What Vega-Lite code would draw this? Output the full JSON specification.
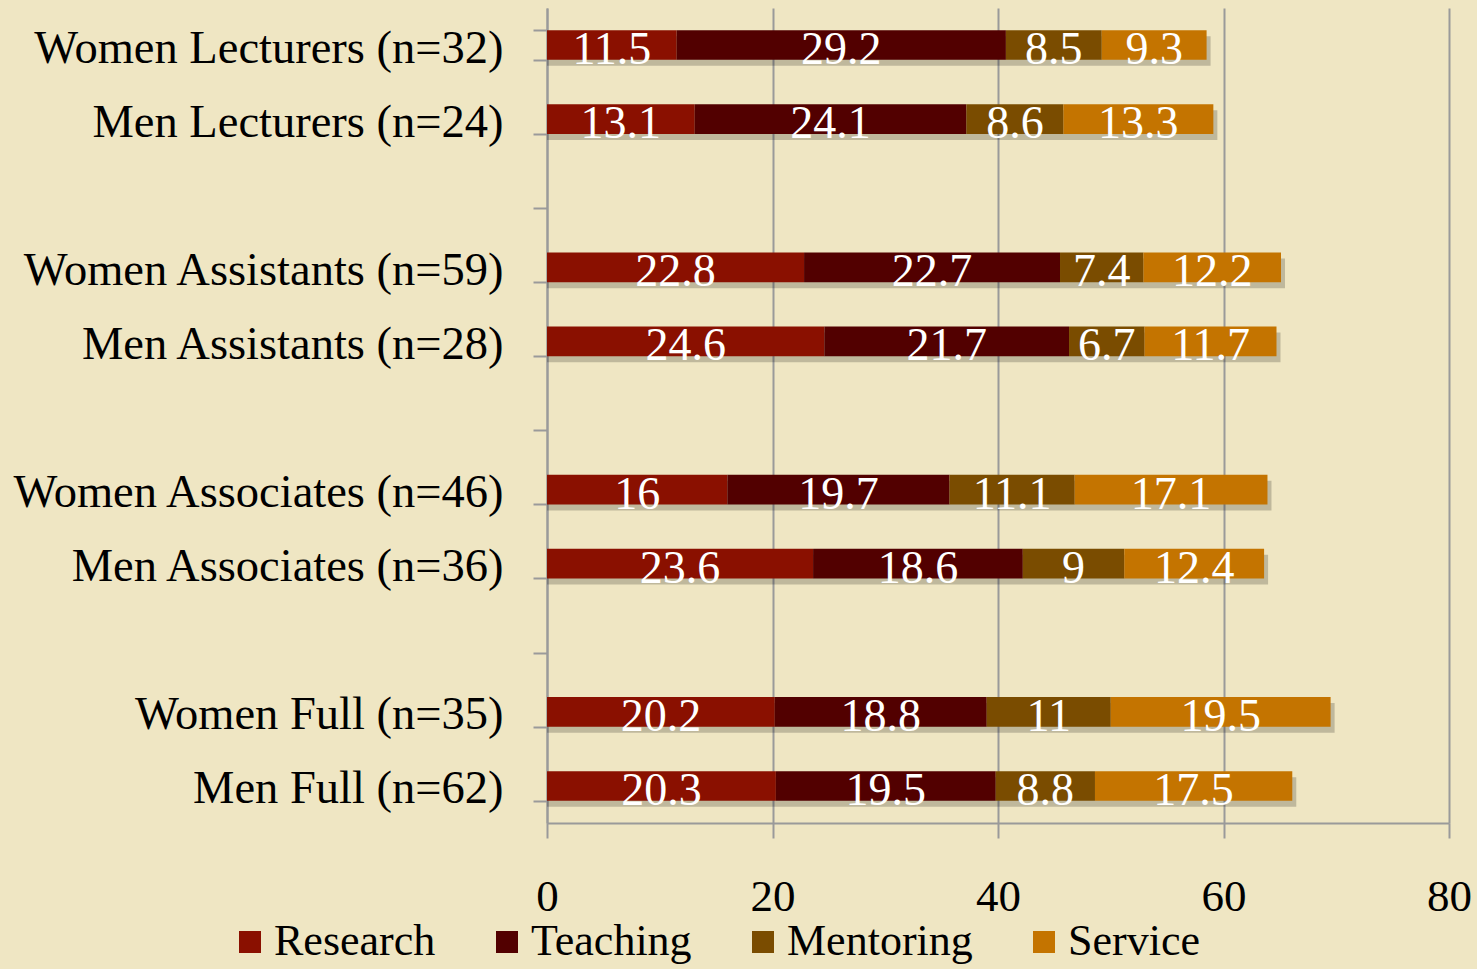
{
  "$schema": "https://vega.github.io/schema/vega-lite/v6.json",
  "width": 902,
  "height": 815,
  "autosize": {"type": "none"},
  "padding": {"left": 547, "top": 8, "right": 28, "bottom": 146},
  "background": "#efe6c3",
  "config": {"view": {"stroke": null}, "font": "'Liberation Serif', 'DejaVu Serif', serif"},
  "data": {
    "values": [
      {"group": "Women Lecturers (n=32)", "segment": "Research", "value": 11.5},
      {"group": "Women Lecturers (n=32)", "segment": "Teaching", "value": 29.2},
      {"group": "Women Lecturers (n=32)", "segment": "Mentoring", "value": 8.5},
      {"group": "Women Lecturers (n=32)", "segment": "Service", "value": 9.3},
      {"group": "Men Lecturers (n=24)", "segment": "Research", "value": 13.1},
      {"group": "Men Lecturers (n=24)", "segment": "Teaching", "value": 24.1},
      {"group": "Men Lecturers (n=24)", "segment": "Mentoring", "value": 8.6},
      {"group": "Men Lecturers (n=24)", "segment": "Service", "value": 13.3},
      {"group": "Women Assistants (n=59)", "segment": "Research", "value": 22.8},
      {"group": "Women Assistants (n=59)", "segment": "Teaching", "value": 22.7},
      {"group": "Women Assistants (n=59)", "segment": "Mentoring", "value": 7.4},
      {"group": "Women Assistants (n=59)", "segment": "Service", "value": 12.2},
      {"group": "Men Assistants (n=28)", "segment": "Research", "value": 24.6},
      {"group": "Men Assistants (n=28)", "segment": "Teaching", "value": 21.7},
      {"group": "Men Assistants (n=28)", "segment": "Mentoring", "value": 6.7},
      {"group": "Men Assistants (n=28)", "segment": "Service", "value": 11.7},
      {"group": "Women Associates (n=46)", "segment": "Research", "value": 16},
      {"group": "Women Associates (n=46)", "segment": "Teaching", "value": 19.7},
      {"group": "Women Associates (n=46)", "segment": "Mentoring", "value": 11.1},
      {"group": "Women Associates (n=46)", "segment": "Service", "value": 17.1},
      {"group": "Men Associates (n=36)", "segment": "Research", "value": 23.6},
      {"group": "Men Associates (n=36)", "segment": "Teaching", "value": 18.6},
      {"group": "Men Associates (n=36)", "segment": "Mentoring", "value": 9},
      {"group": "Men Associates (n=36)", "segment": "Service", "value": 12.4},
      {"group": "Women Full (n=35)", "segment": "Research", "value": 20.2},
      {"group": "Women Full (n=35)", "segment": "Teaching", "value": 18.8},
      {"group": "Women Full (n=35)", "segment": "Mentoring", "value": 11},
      {"group": "Women Full (n=35)", "segment": "Service", "value": 19.5},
      {"group": "Men Full (n=62)", "segment": "Research", "value": 20.3},
      {"group": "Men Full (n=62)", "segment": "Teaching", "value": 19.5},
      {"group": "Men Full (n=62)", "segment": "Mentoring", "value": 8.8},
      {"group": "Men Full (n=62)", "segment": "Service", "value": 17.5}
    ]
  },
  "transform": [
    {"window": [{"op": "row_number", "as": "idx"}], "groupby": ["group"]}
  ],
  "encoding": {
    "y": {
      "field": "group",
      "type": "nominal",
      "title": null,
      "scale": {
        "domain": ["Women Lecturers (n=32)", "Men Lecturers (n=24)", " ", "Women Assistants (n=59)", "Men Assistants (n=28)", "  ", "Women Associates (n=46)", "Men Associates (n=36)", "   ", "Women Full (n=35)", "Men Full (n=62)"],
        "paddingInner": 0.6,
        "paddingOuter": 0.3
      },
      "axis": {
        "title": null,
        "labelFontSize": 46.5,
        "labelColor": "black",
        "labelOffset": 3,
        "domainColor": "#9a9a9a",
        "domainWidth": 2,
        "tickColor": "#9a9a9a",
        "tickWidth": 2,
        "tickSize": 14,
        "tickBand": "extent",
        "labelPadding": 30,
        "labelLimit": 600,
        "grid": false
      }
    }
  },
  "layer": [
    {
      "mark": {"type": "bar", "color": "black", "opacity": 0.2, "xOffset": 4, "yOffset": 6},
      "encoding": {
        "x": {"aggregate": "sum", "field": "value", "type": "quantitative", "scale": {"domain": [0, 80]}}
      }
    },
    {
      "mark": {"type": "bar"},
      "encoding": {
        "x": {
          "field": "value",
          "type": "quantitative",
          "stack": "zero",
          "scale": {"domain": [0, 80]},
          "axis": {
            "title": null,
            "values": [0, 20, 40, 60, 80],
            "grid": true,
            "gridColor": "#9a9a9a",
            "gridWidth": 2,
            "domainColor": "#9a9a9a",
            "domainWidth": 2,
            "tickColor": "#9a9a9a",
            "tickWidth": 2,
            "tickSize": 15,
            "labelFontSize": 45,
            "labelPadding": 36,
            "labelColor": "black",
            "labelFlush": false,
            "labelOverlap": false
          }
        },
        "order": {"field": "idx", "type": "quantitative"},
        "color": {
          "field": "segment",
          "type": "nominal",
          "scale": {
            "domain": ["Research", "Teaching", "Mentoring", "Service"],
            "range": ["#8a1000", "#520000", "#7a4c00", "#c47400"]
          },
          "legend": {
            "orient": "none",
            "legendX": -319,
            "legendY": 912,
            "direction": "horizontal",
            "title": null,
            "symbolType": "square",
            "symbolSize": 484,
            "symbolStrokeWidth": 0,
            "labelFontSize": 44,
            "labelColor": "black",
            "labelOffset": 2,
            "columnPadding": 49,
            "labelLimit": 400,
            "padding": 0
          }
        }
      }
    },
    {
      "mark": {"type": "text", "fill": "white", "fontSize": 46, "baseline": "middle", "dy": 5},
      "encoding": {
        "x": {"field": "value", "type": "quantitative", "stack": "zero", "bandPosition": 0.5},
        "order": {"field": "idx", "type": "quantitative"},
        "detail": {"field": "segment", "type": "nominal"},
        "text": {"field": "value", "type": "quantitative"}
      }
    }
  ]
}
